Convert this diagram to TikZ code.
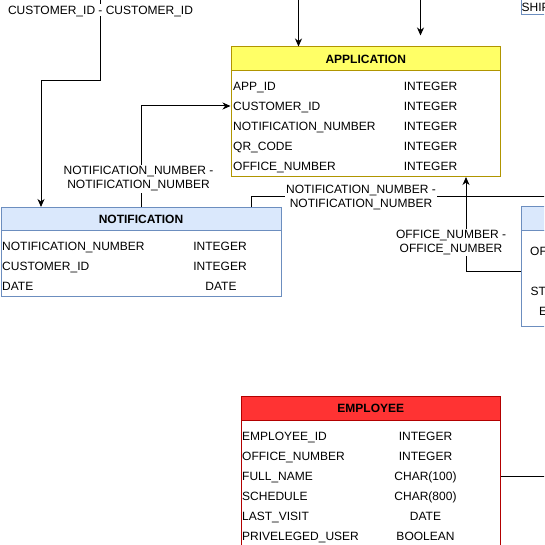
\documentclass[tikz,border=0pt]{standalone}
\usepackage{fontspec}
\setmainfont{Liberation Sans}
\usetikzlibrary{arrows.meta}
\definecolor{appfill}{HTML}{FFFF66}
\definecolor{appline}{HTML}{B09500}
\definecolor{empfill}{HTML}{FF3333}
\definecolor{empline}{HTML}{B20000}
\definecolor{notfill}{HTML}{DAE8FC}
\definecolor{notline}{HTML}{6C8EBF}

\begin{document}
\begin{tikzpicture}[x=1pt,y=-1pt,
  every node/.style={font=\fontsize{12}{14}\selectfont, inner sep=0pt, text=black},
  tblhead/.style={draw, line width=1pt, anchor=north west, minimum height=23.5pt,
    text height=9pt, text depth=0pt, font=\fontsize{12}{14}\selectfont\bfseries},
  tblbody/.style={draw, line width=1pt, fill=white, anchor=north west},
  fld/.style={anchor=west, text height=9pt, text depth=0pt},
  typ/.style={anchor=center, text height=9pt, text depth=0pt},
  link/.style={draw=black, line width=1pt},
  arr/.style={link, -{Stealth[length=8pt,width=7pt,inset=2.5pt]}},
  lbl/.style={fill=white, align=center, inner sep=1.5pt},
  lblone/.style={lbl, text height=9pt, text depth=0pt}
]
\clip (0,0) rectangle (544,545);

% ---------- APPLICATION ----------
\node[tblhead, fill=appfill, draw=appline, minimum width=269.5pt] (app) at (230.5,46.5) {APPLICATION};
\node[tblbody, draw=appline, minimum width=269.5pt, minimum height=106pt] (appb) at (230.5,70) {};
\node[fld] (appf1) at (233,86)  {APP\_ID};
\node[fld] (appf2) at (233,106) {CUSTOMER\_ID};
\node[fld] (appf3) at (233,126) {NOTIFICATION\_NUMBER};
\node[fld] (appf4) at (233,146) {QR\_CODE};
\node[fld] (appf5) at (233,166) {OFFICE\_NUMBER};
\node[typ] (appt1) at (430.5,86)  {INTEGER};
\node[typ] (appt2) at (430.5,106) {INTEGER};
\node[typ] (appt3) at (430.5,126) {INTEGER};
\node[typ] (appt4) at (430.5,146) {INTEGER};
\node[typ] (appt5) at (430.5,166) {INTEGER};

% ---------- NOTIFICATION ----------
\node[tblhead, fill=notfill, draw=notline, minimum width=280pt, minimum height=23pt] (notif) at (0.5,207) {NOTIFICATION};
\node[tblbody, draw=notline, minimum width=280pt, minimum height=66pt] (notifb) at (0.5,230) {};
\node[fld] (notf1) at (2,246) {NOTIFICATION\_NUMBER};
\node[fld] (notf2) at (2,266) {CUSTOMER\_ID};
\node[fld] (notf3) at (2,286) {DATE};
\node[typ] (nott1) at (220,246) {INTEGER};
\node[typ] (nott2) at (220,266) {INTEGER};
\node[typ] (nott3) at (221,286) {DATE};

% ---------- EMPLOYEE ----------
\node[tblhead, fill=empfill, draw=empline, minimum width=259.5pt] (emp) at (240.5,396) {EMPLOYEE};
\node[tblbody, draw=empline, minimum width=259.5pt, minimum height=150pt] (empb) at (240.5,419.5) {};
\node[fld] (empf1) at (242,436) {EMPLOYEE\_ID};
\node[fld] (empf2) at (242,456) {OFFICE\_NUMBER};
\node[fld] (empf3) at (242,476) {FULL\_NAME};
\node[fld] (empf4) at (242,496) {SCHEDULE};
\node[fld] (empf5) at (242,516) {LAST\_VISIT};
\node[fld] (empf6) at (242,536) {PRIVELEGED\_USER};
\node[typ] (empt1) at (425.5,436) {INTEGER};
\node[typ] (empt2) at (425.5,456) {INTEGER};
\node[typ] (empt3) at (425.5,476) {CHAR(100)};
\node[typ] (empt4) at (425.5,496) {CHAR(800)};
\node[typ] (empt5) at (425.5,516) {DATE};
\node[typ] (empt6) at (425.5,536) {BOOLEAN};

% ---------- OFFICE (right edge) ----------
\node[tblhead, fill=notfill, draw=notline, minimum width=80pt] (ofc) at (520.5,206) {};
\node[tblbody, draw=notline, minimum width=80pt, minimum height=96.5pt] (ofcb) at (520.5,229.5) {};
\node[fld] (ofcf1) at (530,251) {OFFICE\_NUMBER};
\coordinate (ofcr2) at (530,271);
\node[fld] (ofcf3) at (530.5,291) {STATUS};
\node[fld] (ofcf4) at (539,311) {EMAIL};

% ---------- SHIPMENT (top right) ----------
\node[draw=notline, line width=1pt, fill=white, anchor=south west,
      minimum width=80pt, minimum height=30pt] (ship) at (520.5,15) {};
\node[fld] (shipt) at (521.5,7) {SHIPMENT};

% ---------- connectors ----------
\coordinate (topA) at (298.5,-5);
\draw[arr] (topA) -- (topA |- app.north);

\coordinate (topB) at (420.5,-5);
\coordinate (topBend) at (420.5,35.5);
\draw[arr] (topB) -- (topBend);

\coordinate (cusSrc) at (100.5,-5);
\coordinate (cusBend) at (100.5,80.5);
\draw[arr] (cusSrc) -- (cusBend) -| ([xshift=40.5pt]notif.north west);

\draw[arr] ([xshift=140.5pt]notif.north west) |- (appf2.west -| appb.west);

\coordinate (notOut) at (560,196.5);
\draw[link] ([xshift=250.5pt]notif.north west) |- (notOut);

\draw[arr] (ofcb.west |- ofcr2) -| ([xshift=-35pt]appb.south east);

\coordinate (empOut) at (560,476);
\draw[link] (empb.east |- empf3) -- (empOut);

% ---------- connector labels ----------
\node[lblone] (cusLbl) at (100.5,10) {CUSTOMER\_ID - CUSTOMER\_ID};
\node[lbl] (notLblA) at (138.5,179) {NOTIFICATION\_NUMBER -\\NOTIFICATION\_NUMBER};
\node[lbl] (notLblB) at (361,197.5) {NOTIFICATION\_NUMBER -\\NOTIFICATION\_NUMBER};
\node[lbl] (ofcLbl) at (451,242.5) {OFFICE\_NUMBER -\\OFFICE\_NUMBER};
\end{tikzpicture}
\end{document}
